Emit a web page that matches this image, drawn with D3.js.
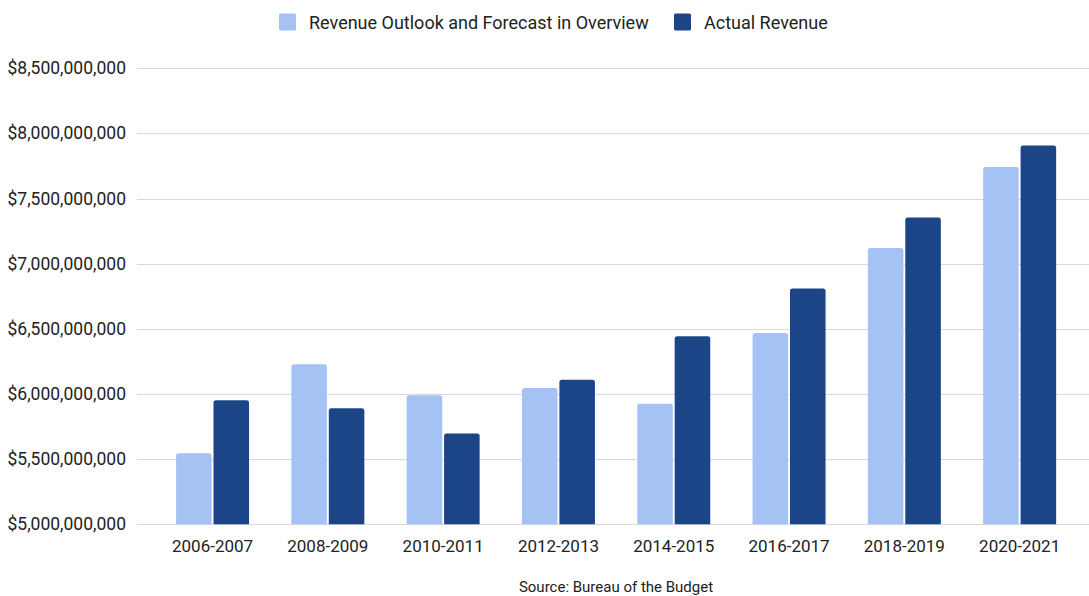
<!DOCTYPE html>
<html><head><meta charset="utf-8">
<script src="https://cdn.jsdelivr.net/npm/d3@7"></script>
<style>body{margin:0;background:#fff;} text{font-family:Roboto,"Noto Sans",sans-serif;}</style>
</head><body>
<svg id="c" width="1089" height="596"></svg>
<script>
const categories = ["2006-2007","2008-2009","2010-2011","2012-2013","2014-2015","2016-2017","2018-2019","2020-2021"];
const seriesNames = ["Revenue Outlook and Forecast in Overview","Actual Revenue"];
const forecast = [5545000000,6228000000,5990000000,6046000000,5926000000,6468000000,7120000000,7742000000];
const actual   = [5952000000,5890000000,5696000000,6110000000,6443000000,6809000000,7354000000,7906000000];
const yTicks = [5000000000,5500000000,6000000000,6500000000,7000000000,7500000000,8000000000,8500000000];
const colors = ["#a4c2f4","#1c4587"];
const source = "Source: Bureau of the Budget";

const svg = d3.select("#c");
const W = 1089, H = 596;
const y = d3.scaleLinear().domain([5000000000,8500000000]).range([524.3,68.2]);
const x = d3.scaleBand().domain(categories).range([154.9,1077.3]).paddingInner(0.367).paddingOuter(0.1835);
const x1 = d3.scaleBand().domain([0,1]).range([0,x.bandwidth()]).paddingInner(0.05);

// grid
svg.append("g").selectAll("line").data(yTicks).join("line")
  .attr("x1",137).attr("x2",W).attr("y1",d=>Math.round(y(d))+0.5).attr("y2",d=>Math.round(y(d))+0.5)
  .attr("stroke","#d9d9d9").attr("stroke-width",1);

// y axis labels
const fmt = d3.format("$,");
svg.append("g").selectAll("text").data(yTicks).join("text")
  .attr("x",126).attr("y",d=>y(d)).attr("dy","0.35em").attr("text-anchor","end")
  .attr("font-size",17.5).attr("fill","#222").text(d=>fmt(d));

// bars with rounded top corners
function barPath(x0,w,top,bottom,r){
  r=Math.min(r,w/2,bottom-top);
  return `M${x0},${bottom}V${top+r}Q${x0},${top} ${x0+r},${top}H${x0+w-r}Q${x0+w},${top} ${x0+w},${top+r}V${bottom}Z`;
}
const data = categories.map((c,i)=>({c,vals:[forecast[i],actual[i]]}));
const g = svg.append("g");
data.forEach(d=>{
  d.vals.forEach((v,j)=>{
    g.append("path").attr("fill",colors[j])
     .attr("d",barPath(x(d.c)+x1(j),x1.bandwidth(),y(v),y(5000000000),2.5));
  });
});

// x labels
svg.append("g").selectAll("text").data(categories).join("text")
  .attr("x",d=>x(d)+x.bandwidth()/2).attr("y",552).attr("text-anchor","middle")
  .attr("font-size",17).attr("fill","#222").text(d=>d);

// legend
const leg = svg.append("g");
const lx = [279,674];
seriesNames.forEach((n,i)=>{
  leg.append("rect").attr("x",lx[i]).attr("y",13.5).attr("width",17).attr("height",17).attr("rx",1.5).attr("fill",colors[i]);
  leg.append("text").attr("x",lx[i]+30).attr("y",28.5).attr("font-size",18).attr("fill","#222").text(n);
});

// source
svg.append("text").attr("x",616).attr("y",592).attr("text-anchor","middle")
  .attr("font-size",15).attr("fill","#222").text(source);
</script>
</body></html>
